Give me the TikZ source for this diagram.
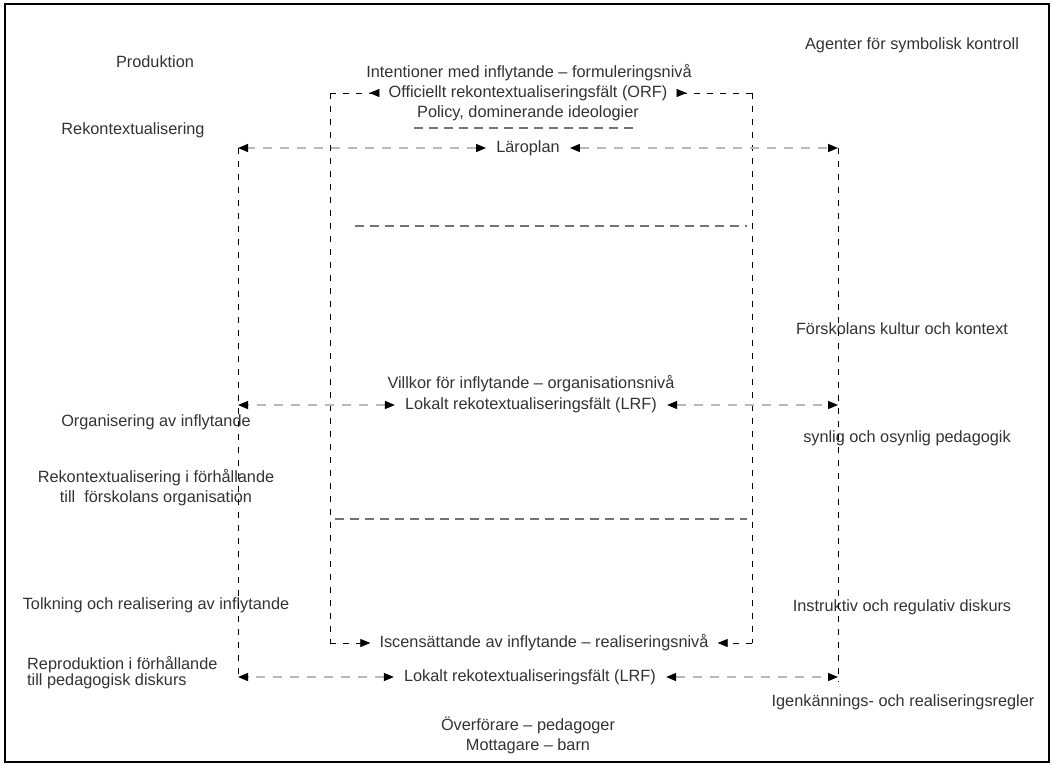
\documentclass[tikz,border=0pt]{standalone}
\usepackage{fontspec}
\setmainfont{Liberation Sans}
\usetikzlibrary{arrows.meta}

\tikzset{
  txt/.style={text=black!80, font=\fontsize{16.3}{20}\selectfont, inner sep=4pt},
  vline/.style={black, line width=0.8pt, dash pattern=on 6pt off 7pt},
  arrline/.style={gray!55, line width=1.4pt, dash pattern=on 9pt off 8pt, shorten <=6pt},
  sepline/.style={gray!90!black, line width=1.3pt, dash pattern=on 9pt off 6pt},
  blk/.tip={Triangle[color=black, length=10pt, width=8pt]},
  blkrev/.tip={Triangle[color=black, reversed, length=10pt, width=8pt]}
}

\begin{document}
\begin{tikzpicture}[x=1pt,y=-1pt]
		\useasboundingbox (0,0) rectangle (1054,764);
		\draw[line width=1.5pt] (5,4) rectangle (1049,762);
		% corners of the dashed frames
		\coordinate (innerTL) at (330,93);
		\coordinate (innerTR) at (752,93);
		\coordinate (innerBL) at (330,643);
		\coordinate (innerBR) at (752,643);
		\coordinate (outerTL) at (238,148);
		\coordinate (outerTR) at (838,148);
		\coordinate (outerBL) at (238,678);
		\coordinate (outerBR) at (838,682);
		% middle column
		\node[txt] (intent) at (529,73) {Intentioner med inflytande -- formuleringsnivå};
		\node[txt] (orf) at (528,93) {Officiellt rekontextualiseringsfält (ORF)};
		\node[txt] (policy) at (528,113) {Policy, dominerande ideologier};
		\node[txt] (laroplan) at (528,148) {Läroplan};
		\node[txt] (villkor) at (531,384) {Villkor för inflytande -- organisationsnivå};
		\node[txt] (lrfmid) at (531,405) {Lokalt rekotextualiseringsfält (LRF)};
		\node[txt] (iscen) at (544,643) {Iscensättande av inflytande -- realiseringsnivå};
		\node[txt] (lrfbot) at (530,677) {Lokalt rekotextualiseringsfält (LRF)};
		\node[txt,align=center] (overf) at (528,735) {Överförare -- pedagoger\\Mottagare -- barn};
		% left column
		\node[txt] (prod) at (155,62) {Produktion};
		\node[txt] (rekont) at (133,130) {Rekontextualisering};
		\node[txt] (organis) at (156,422) {Organisering av inflytande};
		\node[txt,align=center] (rekforh) at (156,488) {Rekontextualisering i förhållande\\till\ \ förskolans organisation};
		\node[txt] (tolkning) at (156,605) {Tolkning och realisering av inflytande};
		\node[txt,align=left,anchor=west] (reprod) at (23,673) {Reproduktion i förhållande\\[-4pt]till pedagogisk diskurs};
		% right column
		\node[txt] (agenter) at (912,45) {Agenter för symbolisk kontroll};
		\node[txt] (kultur) at (902,329) {Förskolans kultur och kontext};
		\node[txt] (synlig) at (907,438) {synlig och osynlig pedagogik};
		\node[txt] (instr) at (902,607) {Instruktiv och regulativ diskurs};
		\node[txt] (igenk) at (903,702) {Igenkännings- och realiseringsregler};
		% vertical lines
		\draw[vline] (innerTL) -- (innerBL);
		\draw[vline] (innerTR) -- (innerBR);
		\draw[vline] (outerTL) -- (outerBL);
		\draw[vline] (outerTR) -- (outerBR);
		% separators
		\draw[sepline] (414,128) -- (636,128);
		\draw[sepline] (355,226) -- (747,226);
		\draw[sepline] (335,519) -- (747,519);
		% arrows
		\draw[vline,-blkrev,shorten >=5pt] (innerTL) -- (orf.west);
		\draw[vline,-blkrev,shorten >=5pt] (innerTR) -- (orf.east);
		\draw[arrline,blk-blk] (laroplan.west) -- (outerTL);
		\draw[arrline,blk-blk] (laroplan.east) -- (outerTR);
		\draw[arrline,blk-blk] (lrfmid.west) -- (outerTL |- lrfmid);
		\draw[arrline,blk-blk] (lrfmid.east) -- (outerTR |- lrfmid);
		\draw[vline,-blk,shorten >=5pt] (innerBL) -- (iscen.west);
		\draw[vline,-blk,shorten >=5pt] (innerBR) -- (iscen.east);
		\draw[arrline,blk-blk] (lrfbot.west) -- (outerTL |- lrfbot);
		\draw[arrline,blk-blk] (lrfbot.east) -- (outerTR |- lrfbot);
	\end{tikzpicture}
\end{document}
